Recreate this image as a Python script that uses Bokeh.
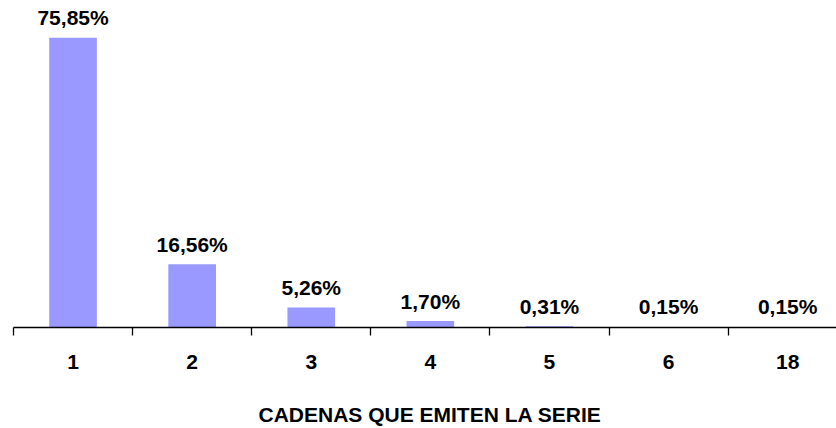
from bokeh.plotting import figure
from bokeh.models import ColumnDataSource, Range1d, FixedTicker, Title
from bokeh.core.properties import value
from bokeh.embed import file_html
from bokeh.resources import INLINE

categories = ["1", "2", "3", "4", "5", "6", "18"]
percent = [75.85, 16.56, 5.26, 1.70, 0.31, 0.15, 0.15]
labels = ["75,85%", "16,56%", "5,26%", "1,70%", "0,31%", "0,15%", "0,15%"]
axis_title = "CADENAS QUE EMITEN LA SERIE"

FONT = "Liberation Sans"
xs = list(range(len(categories)))
src = ColumnDataSource(dict(x=xs, top=percent, lab=labels))

p = figure(width=836, height=428, output_backend="svg", toolbar_location=None,
           x_range=Range1d(-0.5, 6.41), y_range=Range1d(0, 85.6),
           y_axis_location=None, min_border_left=13, min_border_right=0,
           min_border_top=0, min_border_bottom=101)
p.outline_line_color = None
p.grid.visible = False
p.background_fill_color = "white"
p.border_fill_color = "white"

p.vbar(x="x", top="top", width=0.40, bottom=0, source=src,
       fill_color="#9999FF", line_color=None)
p.text(x="x", y="top", text="lab", source=src, text_align="center",
       text_baseline="alphabetic", y_offset=-20,
       text_font=value(FONT), text_font_style="bold", text_font_size="21px",
       text_color="black")

ax = p.xaxis[0]
ax.ticker = FixedTicker(ticks=xs, minor_ticks=[i - 0.5 for i in range(len(categories) + 1)])
ax.major_label_overrides = {i: c for i, c in enumerate(categories)}
ax.major_tick_out = 0
ax.major_tick_in = 0
ax.minor_tick_out = 8
ax.minor_tick_in = 0
ax.minor_tick_line_color = "black"
ax.minor_tick_line_width = 1.3
ax.axis_line_color = "black"
ax.axis_line_width = 1.3
ax.major_label_standoff = 19
ax.major_label_text_font = FONT
ax.major_label_text_font_style = "bold"
ax.major_label_text_font_size = "21px"
ax.major_label_text_color = "black"
# invisible spacer label to push the title down
ax.axis_label = "\u00a0"
ax.axis_label_standoff = 17
ax.axis_label_text_font_size = "10px"

t = Title(text=axis_title, align="left", offset=245, vertical_align="top",
          standoff=0, text_font=FONT, text_font_style="bold",
          text_font_size="21px", text_color="black")
p.add_layout(t, "below")

open("out.html", "w").write(file_html(p, INLINE))
